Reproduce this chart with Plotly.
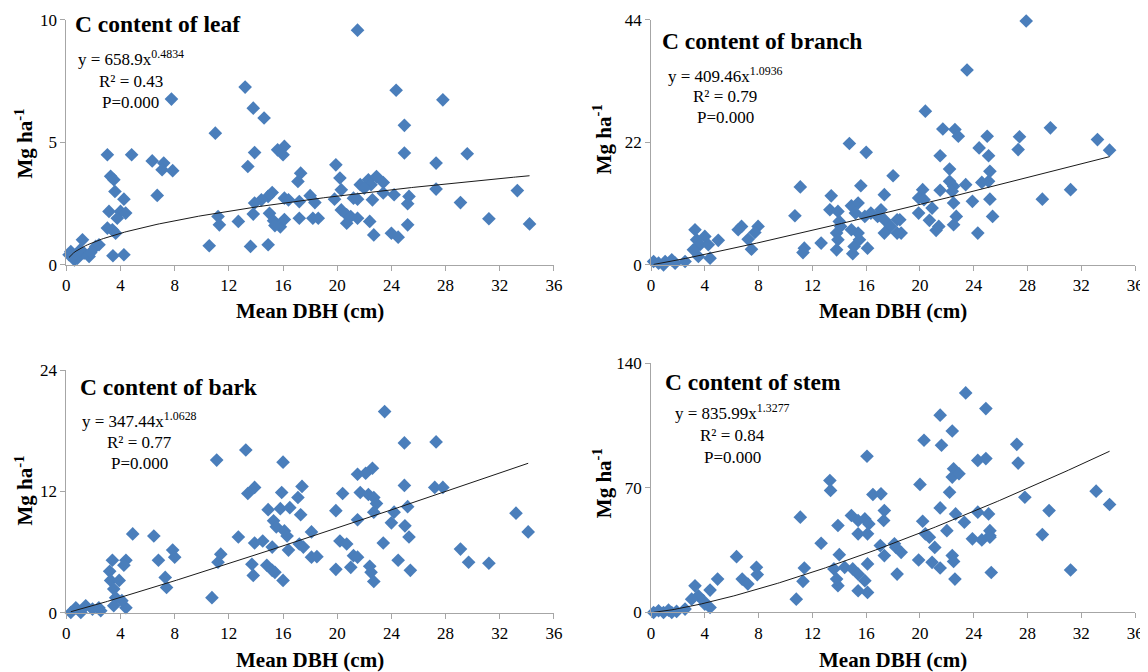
import numpy as np
import plotly.graph_objects as go

# page is 1148x672; the browser's default 8px body margin sits left/top of the figure
OFF = 8
W, H = 1140, 664

# ---------------- data ----------------
leaf_x = [13.2, 7.76, 13.8, 14.6, 11.0, 3.03, 4.82, 13.9, 15.6, 16.1, 16.0, 6.34, 7.19, 7.07, 7.85, 13.4,
          3.27, 3.51, 17.3, 17.1, 3.59, 6.71, 4.25, 15.2, 14.9, 14.4, 13.9, 16.1, 16.4, 17.2, 18.0, 3.15,
          4.0, 3.76, 4.38, 11.2, 11.3, 12.7, 13.8, 15.0, 15.3, 15.8, 15.4, 16.1, 17.2, 18.2, 3.03, 3.4,
          3.64, 10.55, 13.6, 14.9, 3.44, 4.25, 0.33, 1.19, 0.82, 1.68, 2.17, 2.41, 0.2, 1.31, 0.6, 1.0,
          1.8, 0.5,
          21.5, 24.35, 27.8, 24.96, 24.96, 29.6, 27.3, 19.9, 20.2, 22.3, 22.9, 22.5, 23.4, 21.7, 22.0,
          20.3, 27.3, 33.3, 18.35, 19.8, 21.2, 21.5, 22.6, 23.4, 24.2, 25.3, 25.2, 29.1, 20.3, 20.7, 20.7,
          21.5, 21.0, 18.6, 22.4, 22.7, 24.0, 24.5, 25.2, 31.2, 34.2]
leaf_y = [7.25, 6.76, 6.39, 5.99, 5.37, 4.49, 4.49, 4.58, 4.69, 4.83, 4.49, 4.24, 4.15, 3.88, 3.84, 4.01,
          3.61, 3.47, 3.74, 3.4, 2.99, 2.83, 2.68, 2.95, 2.79, 2.65, 2.52, 2.72, 2.65, 2.58, 2.82, 2.18,
          2.18, 1.9, 2.11, 1.97, 1.63, 1.77, 2.07, 2.1, 1.8, 1.55, 1.6, 1.85, 1.9, 1.9, 1.5, 1.43,
          1.29, 0.78, 0.75, 0.82, 0.37, 0.41, 0.54, 1.02, 0.27, 0.34, 0.75, 0.82, 0.41, 0.48, 0.2, 0.6,
          0.5, 0.35,
          9.57, 7.12, 6.73, 5.69, 4.56, 4.53, 4.15, 4.08, 3.54, 3.47, 3.6, 3.27, 3.36, 3.27, 3.13,
          3.06, 3.09, 3.03, 2.54, 2.68, 2.72, 2.68, 2.65, 2.93, 2.86, 2.79, 2.49, 2.54, 2.24, 2.04, 1.70,
          1.9, 1.97, 1.9, 1.77, 1.22, 1.29, 1.13, 1.63, 1.88, 1.67]

branch_x = [14.75, 16.0, 11.1, 18.0, 13.4, 15.6, 17.35, 10.7, 13.3, 13.9, 14.0, 14.9, 15.4, 15.2, 15.9,
            16.35, 17.1, 16.85, 17.35, 18.3, 6.73, 6.48, 7.96, 7.72, 7.22, 7.47, 3.27, 4.0, 3.39, 3.64,
            4.26, 5.0, 3.52, 4.39, 3.15, 12.65, 11.4, 11.3, 13.8, 13.9, 14.1, 13.8, 15.0, 15.1, 15.5,
            16.1, 15.4, 14.9, 17.8, 18.3, 0.19, 0.56, 1.05, 1.54, 1.79, 2.53, 0.93,
            27.9, 23.5, 20.4, 21.7, 22.6, 22.85, 29.7, 33.2, 34.1, 27.4, 27.3, 25.0, 24.4, 25.1, 21.5,
            22.2, 25.2, 22.2, 22.5, 23.4, 24.6, 25.1, 21.5, 22.4, 20.2, 19.9, 20.3, 22.5, 23.9, 25.2,
            29.1, 31.2, 20.9, 19.9, 20.7, 18.5, 18.6, 17.35, 21.4, 21.2, 22.7, 22.5, 25.4, 24.3]
branch_y = [21.8, 20.2, 14.0, 16.0, 12.4, 14.2, 12.6, 8.82, 9.9, 9.6, 7.8, 10.6, 11.1, 9.3, 8.7,
            9.3, 9.9, 8.7, 8.1, 8.1, 6.9, 6.3, 6.9, 5.8, 4.6, 2.8, 6.3, 5.1, 4.5, 3.6,
            3.6, 4.4, 1.5, 1.2, 2.7, 3.9, 3.0, 2.2, 5.7, 4.5, 6.9, 2.7, 2.0, 3.3, 4.5,
            3.0, 5.7, 6.3, 6.9, 5.7, 0.6, 0.3, 0.6, 0.9, 0.3, 0.6, 0.0,
            43.8, 35.0, 27.6, 24.4, 24.3, 23.1, 24.6, 22.5, 20.6, 23.0, 20.7, 23.1, 21.0, 19.6, 19.6,
            17.2, 16.8, 15.0, 14.1, 14.4, 14.8, 15.0, 13.4, 13.2, 13.5, 12.0, 11.7, 11.1, 11.4, 11.8,
            11.8, 13.5, 10.2, 9.3, 8.0, 8.1, 5.7, 5.7, 6.9, 6.2, 8.7, 7.2, 8.7, 5.7]

bark_x = [13.25, 11.1, 16.0, 13.9, 13.4, 15.9, 17.4, 17.1, 14.9, 15.8, 16.5, 17.3, 15.3, 15.5, 16.1,
          16.3, 12.7, 4.9, 6.46, 13.9, 14.5, 15.2, 16.4, 17.2, 17.5, 18.1, 18.1, 7.85, 8.0, 6.8, 11.4,
          11.2, 3.4, 4.4, 4.25, 3.2, 13.7, 13.8, 14.8, 15.4, 16.0, 15.2, 7.3, 7.4, 3.27, 3.9, 3.5,
          3.64, 10.75, 3.5, 4.4, 4.1, 0.33, 0.7, 1.43, 1.93, 2.54, 1.07, 2.4,
          23.5, 24.96, 27.3, 21.5, 22.1, 22.6, 24.96, 27.2, 27.8, 20.4, 21.7, 22.3, 22.7, 22.9, 19.9,
          21.5, 22.7, 24.2, 24.0, 25.2, 25.0, 33.2, 34.1, 20.2, 20.7, 23.4, 25.3, 18.5, 21.2, 21.5,
          21.0, 19.9, 22.4, 22.5, 22.7, 24.5, 25.4, 29.1, 29.7, 31.2]
bark_y = [16.1, 15.1, 14.9, 12.4, 11.8, 11.9, 12.5, 11.4, 10.2, 10.3, 10.4, 9.7, 9.1, 8.5, 8.1,
          7.6, 7.5, 7.8, 7.6, 6.9, 7.1, 6.5, 6.2, 6.8, 6.5, 8.0, 5.5, 6.2, 5.5, 5.2, 5.8,
          5.0, 5.2, 5.2, 4.7, 4.1, 4.8, 3.7, 4.7, 4.0, 3.2, 4.2, 3.5, 2.5, 3.2, 3.2, 2.35,
          1.5, 1.5, 0.7, 0.5, 1.2, 0.03, 0.5, 0.7, 0.37, 0.2, 0.03, 0.5,
          19.9, 16.8, 16.9, 13.7, 13.8, 14.3, 12.6, 12.4, 12.4, 11.8, 11.9, 11.7, 11.4, 10.8, 10.1,
          9.2, 9.95, 9.95, 8.9, 10.5, 8.6, 9.85, 8.0, 7.1, 6.8, 6.9, 7.5, 5.55, 5.65, 5.5,
          4.5, 4.3, 4.6, 4.0, 3.1, 5.2, 4.2, 6.3, 5.0, 4.9]

stem_x = [16.06, 13.3, 13.35, 16.5, 17.1, 17.35, 17.3, 11.1, 14.9, 15.4, 15.9, 16.2, 15.4, 16.1, 13.9,
          12.65, 17.05, 17.35, 18.2, 18.3, 6.36, 14.0, 13.6, 14.4, 15.0, 15.4, 16.1, 13.9, 13.8, 15.4,
          16.1, 15.9, 7.84, 7.9, 6.78, 7.2, 4.95, 11.4, 11.3, 10.8, 3.27, 4.39, 3.52, 3.89, 3.02,
          4.39, 4.0, 0.19, 0.56, 1.3, 1.9, 2.53, 0.93, 1.54,
          23.4, 24.9, 21.5, 22.4, 20.3, 21.6, 27.2, 27.3, 24.3, 24.9, 22.5, 22.4, 22.9, 20.0, 22.2,
          27.8, 33.1, 34.1, 29.6, 21.5, 22.65, 24.3, 25.1, 23.3, 25.2, 25.2, 20.2, 20.4, 20.7, 22.0,
          23.9, 24.6, 25.2, 29.1, 18.1, 18.6, 21.1, 19.9, 20.9, 21.5, 22.4, 22.5, 22.6, 25.3, 31.2]
stem_y = [87.8, 74.2, 68.6, 66.3, 66.7, 57.3, 51.7, 53.6, 54.5, 51.7, 52.6, 49.8, 44.2, 44.2, 48.9,
          38.9, 37.6, 32.0, 36.7, 21.6, 31.4, 32.5, 24.5, 25.4, 24.5, 21.6, 27.3, 15.1, 18.8, 12.2,
          11.3, 17.9, 25.4, 21.3, 18.8, 16.0, 18.8, 25.0, 17.5, 7.5, 15.0, 12.6, 9.4, 6.6, 7.5,
          2.8, 4.7, 0.0, 1.0, 1.3, 0.6, 1.9, 0.0, 0.0,
          123.4, 114.6, 110.9, 102.0, 96.8, 94.0, 94.5, 84.0, 85.5, 86.5, 80.8, 76.1, 78.0, 72.0, 67.6,
          64.8, 68.2, 60.7, 57.3, 58.8, 55.4, 56.4, 55.4, 50.7, 46.0, 43.2, 51.3, 44.2, 42.3, 46.0,
          41.4, 40.8, 42.3, 43.8, 38.6, 33.8, 36.6, 29.5, 28.2, 25.0, 32.0, 28.7, 18.8, 22.5, 23.9]

panel_titles = ["C content of leaf", "C content of branch", "C content of bark", "C content of stem"]
fit_a = [658.9, 409.46, 347.44, 835.99]          # coefficients shown on the chart (kg ha-1 scale)
fit_b = [0.4834, 1.0936, 1.0628, 1.3277]
fit_a_txt = ["658.9", "409.46", "347.44", "835.99"]
fit_b_txt = ["0.4834", "1.0936", "1.0628", "1.3277"]
r2_txt = ["0.43", "0.79", "0.77", "0.84"]
p_txt = ["0.000", "0.000", "0.000", "0.000"]
y_max = [10, 44, 24, 140]
y_dtick = [5, 22, 12, 70]
x_ticks = [0, 4, 8, 12, 16, 20, 24, 28, 32, 36]

# ---------------- layout helpers (target screen pixels -> paper) ----------------
def fx(px):
    page = (px - 3.0) / 0.9925
    return (page - OFF) / W

def fy(py):
    page = (py - 10.1) / 0.9687
    return 1 - (page - OFF) / H

# plot-area boxes: (left, right, bottom, top) in target pixels
boxes = [(65.5, 555, 265, 20.5), (652.5, 1138.5, 265, 20.7),
         (65.5, 555, 612, 370), (652.5, 1138.5, 611.7, 363.3)]

xs = [leaf_x, branch_x, bark_x, stem_x]
ys = [leaf_y, branch_y, bark_y, stem_y]

BLUE = "#4A7EBB"
AXC = "#A6A6A6"
SERIF = "Liberation Serif, Times New Roman, serif"

fig = go.Figure()
layout = dict(width=W, height=H, margin=dict(l=0, r=0, t=0, b=0),
              paper_bgcolor="white", plot_bgcolor="white", showlegend=False,
              font=dict(family=SERIF, color="black"))
annotations = []

title_pos = [(72, 25), (662, 42), (77, 387), (665, 382)]
eq_pos = [(130, [59, 82, 103]), (727, [76, 97, 118]), (139, [420, 442, 463]), (734, [412, 435, 457])]
ytitle_pos = [(23, 144), (604, 140), (23, 490), (604, 483)]
xtitle_pos = [(310, 311), (895.5, 311), (310, 659), (895.5, 659)]

for i in range(4):
    sfx = "" if i == 0 else str(i + 1)
    xa, ya = "x" + sfx, "y" + sfx
    l, r, b, t = boxes[i]
    common = dict(showline=True, linecolor=AXC, linewidth=1, ticks="outside", tickcolor=AXC,
                  ticklen=5, showgrid=False, zeroline=False,
                  tickfont=dict(family=SERIF, size=17, color="black"))
    layout["xaxis" + sfx] = dict(domain=[fx(l), fx(r)], anchor=ya, range=[0, 36],
                                 tickvals=x_ticks, **common)
    layout["yaxis" + sfx] = dict(domain=[fy(b), fy(t)], anchor=xa, range=[0, y_max[i]],
                                 dtick=y_dtick[i], **common)

    fig.add_trace(go.Scatter(x=xs[i], y=ys[i], mode="markers", xaxis=xa, yaxis=ya,
                             marker=dict(symbol="diamond", size=10.5, color=BLUE,
                                         line=dict(width=0)),
                             cliponaxis=False))
    tx = np.linspace(min(xs[i]), max(xs[i]), 200)
    ty = fit_a[i] / 1000.0 * tx ** fit_b[i]
    fig.add_trace(go.Scatter(x=tx, y=ty, mode="lines", xaxis=xa, yaxis=ya,
                             line=dict(color="#1a1a1a", width=1)))

    px, py = title_pos[i]
    annotations.append(dict(x=fx(px), y=fy(py), xref="paper", yref="paper", xanchor="left",
                            yanchor="middle", showarrow=False,
                            text="<b>" + panel_titles[i] + "</b>",
                            font=dict(family=SERIF, size=23.5, color="black")))
    cx, lines_y = eq_pos[i]
    lines = ["y = " + fit_a_txt[i] + "x<sup>" + fit_b_txt[i] + "</sup>",
             "R² = " + r2_txt[i],
             "P=" + p_txt[i]]
    for txt, ly in zip(lines, lines_y):
        annotations.append(dict(x=fx(cx), y=fy(ly), xref="paper", yref="paper", xanchor="center",
                                yanchor="middle", showarrow=False, text=txt,
                                font=dict(family=SERIF, size=17, color="black")))
    px, py = ytitle_pos[i]
    annotations.append(dict(x=fx(px), y=fy(py), xref="paper", yref="paper", xanchor="center",
                            yanchor="middle", showarrow=False, textangle=-90,
                            text="<b>Mg ha<sup>-1</sup></b>",
                            font=dict(family=SERIF, size=21, color="black")))
    px, py = xtitle_pos[i]
    annotations.append(dict(x=fx(px), y=fy(py), xref="paper", yref="paper", xanchor="center",
                            yanchor="middle", showarrow=False,
                            text="<b>Mean DBH (cm)</b>",
                            font=dict(family=SERIF, size=21, color="black")))

layout["annotations"] = annotations
fig.update_layout(**layout)
fig.write_html("out.html")
